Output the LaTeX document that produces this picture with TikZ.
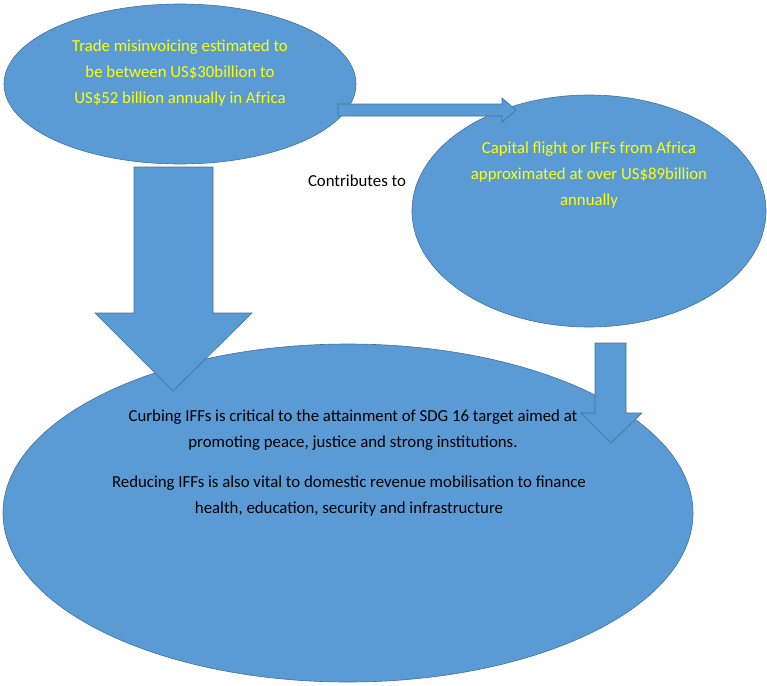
\documentclass[tikz,border=0pt]{standalone}
\usepackage{fontspec}
\setmainfont{Carlito}
\usetikzlibrary{shapes.geometric}
\definecolor{officeblue}{HTML}{5B9BD5}
\definecolor{officeline}{HTML}{41719C}
\definecolor{notetext}{HTML}{FFFF00}

\begin{document}
\begin{tikzpicture}[x=1pt,y=-1pt,font=\fontsize{16.8}{26}\selectfont,blob/.style={ellipse,draw=officeline,fill=officeblue,line width=0.6pt,inner sep=0pt},blockarrow/.style={draw=officeline,fill=officeblue,line width=0.6pt,line join=miter},note/.style={align=center,text=notetext},body/.style={align=center,text=black}]
\useasboundingbox (0,0) rectangle (767,685);
\node[blob,minimum width=352pt,minimum height=160pt] (trade) at (180,84) {};
\node[blob,minimum width=354pt,minimum height=232pt] (flight) at (589,211) {};
\node[blob,minimum width=690pt,minimum height=338pt] (sdg) at (348,513) {};
\node[note] (tradetxt) at (180,73) {Trade misinvoicing estimated to\\be between US\$30billion to\\US\$52 billion annually in Africa};
\node[note] (flighttxt) at (589,175) {Capital flight or IFFs from Africa\\approximated at over US\$89billion\\annually};
\node[body] (contrib) at (357,181) {Contributes to};
% block arrows
\draw[blockarrow] (338,104) -- (502,104) -- (502,98) -- (516,110) -- (502,122) -- (502,116) -- (338,116) -- cycle;
\draw[blockarrow] (134,167) -- (213,167) -- (213,313) -- (252,313) -- (173,391) -- (95,313) -- (134,313) -- cycle;
\draw[blockarrow] (595,343) -- (626,343) -- (626,413) -- (642,413) -- (611,443) -- (581,413) -- (595,413) -- cycle;
\node[body] (sdgtxt) at (353,430) {Curbing IFFs is critical to the attainment of SDG 16 target aimed at\\promoting peace, justice and strong institutions.};
\node[body] (revtxt) at (349,496) {Reducing IFFs is also vital to domestic revenue mobilisation to finance\\health, education, security and infrastructure};
\end{tikzpicture}
\end{document}
